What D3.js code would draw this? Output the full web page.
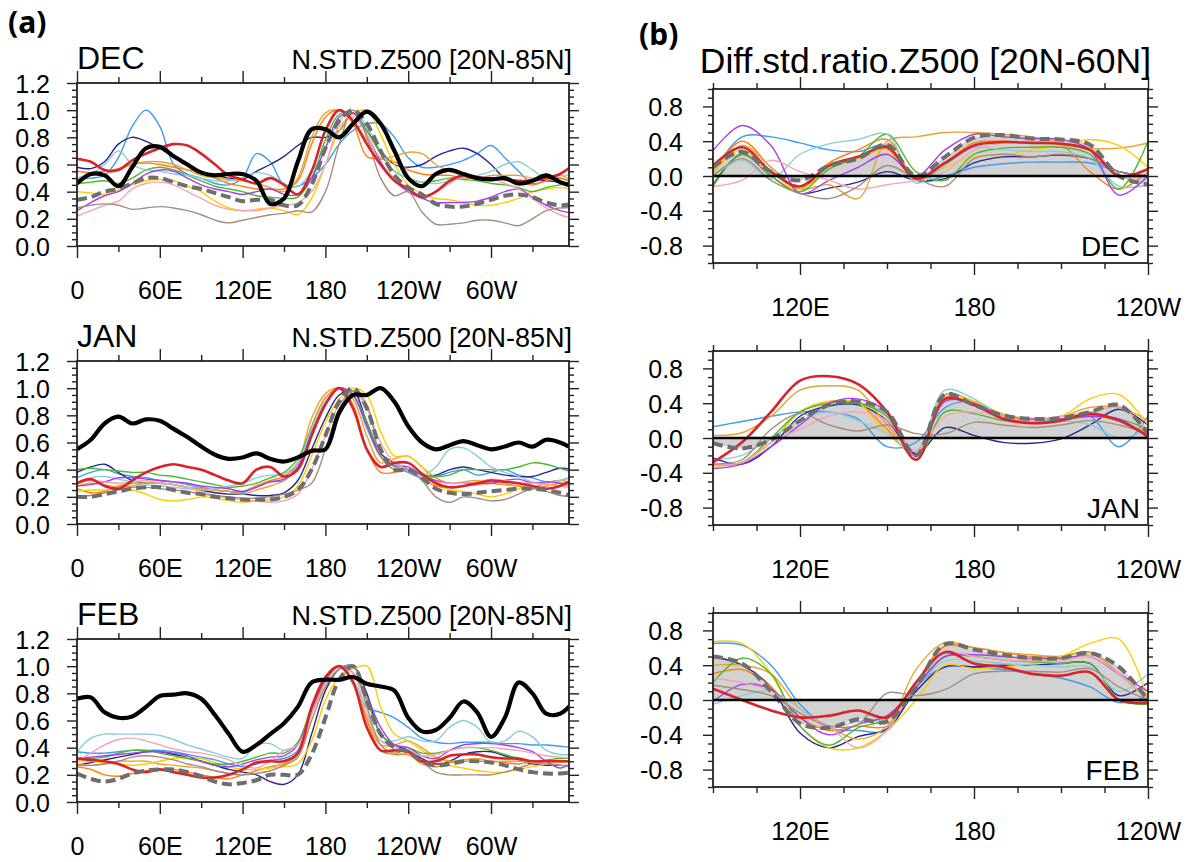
<!DOCTYPE html>
<html>
<head>
<meta charset="utf-8">
<script src="https://cdn.jsdelivr.net/npm/d3@7"></script>
<style>
  body { margin: 0; background: #fff; }
  text { font-family: "Liberation Sans", Arial, Helvetica, sans-serif; fill: #000; }
</style>
</head>
<body>
<svg id="fig" width="1195" height="862"></svg>
<script>
// longitude grids (degrees east)
var lonA = d3.range(0, 361, 10);   // 0 .. 360, left column
var lonB = d3.range(90, 241, 10);  // 90E .. 120W, right column

var seriesNames = ["lightblue", "navy", "orange", "golden", "yellow", "green",
                   "cyan", "purple", "pink", "brown", "red", "dashed", "black"];

// (a) N.STD.Z500 [20N-85N], one row per series (same order as seriesNames)
var aDEC = [
  [0.49,0.50,0.52,0.65,0.88,1.00,0.88,0.60,0.53,0.50, 0.46,0.45,0.50,0.68,0.62,0.45,0.44,0.50,0.60,0.75, 0.85,0.90,0.90,0.80,0.65,0.58,0.58,0.60,0.63,0.68, 0.74,0.65,0.55,0.46,0.48,0.50,0.46],
  [0.58,0.57,0.62,0.75,0.80,0.77,0.72,0.66,0.60,0.55, 0.52,0.50,0.49,0.55,0.60,0.66,0.74,0.80,0.80,0.85, 0.98,0.85,0.70,0.60,0.58,0.60,0.66,0.70,0.72,0.68, 0.60,0.50,0.47,0.49,0.48,0.47,0.46],
  [0.55,0.54,0.55,0.57,0.60,0.61,0.60,0.58,0.56,0.55, 0.50,0.46,0.44,0.42,0.42,0.42,0.48,0.75,0.95,1.00, 0.90,0.66,0.64,0.62,0.56,0.53,0.52,0.52,0.50,0.50, 0.50,0.49,0.47,0.45,0.48,0.50,0.46],
  [0.50,0.52,0.53,0.56,0.60,0.62,0.62,0.60,0.56,0.52, 0.50,0.49,0.48,0.46,0.43,0.40,0.50,0.80,0.98,1.00, 0.92,0.78,0.65,0.66,0.69,0.68,0.60,0.55,0.52,0.50, 0.52,0.52,0.52,0.50,0.51,0.52,0.48],
  [0.40,0.39,0.38,0.41,0.45,0.48,0.49,0.48,0.44,0.40, 0.33,0.28,0.26,0.27,0.28,0.26,0.23,0.35,0.60,0.85, 0.97,1.00,0.82,0.60,0.45,0.38,0.35,0.34,0.32,0.30, 0.30,0.32,0.35,0.40,0.42,0.43,0.42],
  [0.46,0.47,0.48,0.46,0.50,0.56,0.58,0.56,0.52,0.48, 0.44,0.42,0.40,0.37,0.36,0.35,0.36,0.50,0.78,0.97, 0.98,0.85,0.68,0.55,0.50,0.47,0.48,0.50,0.49,0.48, 0.46,0.45,0.43,0.40,0.43,0.45,0.46],
  [0.50,0.53,0.60,0.70,0.60,0.56,0.55,0.53,0.52,0.50, 0.48,0.48,0.50,0.54,0.52,0.46,0.44,0.55,0.72,0.92, 1.00,0.88,0.70,0.55,0.50,0.47,0.46,0.48,0.50,0.52, 0.55,0.60,0.62,0.56,0.50,0.52,0.52],
  [0.26,0.32,0.37,0.40,0.46,0.53,0.56,0.55,0.50,0.45, 0.42,0.40,0.38,0.40,0.42,0.38,0.38,0.50,0.72,0.95, 0.98,0.82,0.62,0.48,0.40,0.35,0.32,0.32,0.32,0.33, 0.36,0.40,0.42,0.36,0.30,0.26,0.24],
  [0.22,0.26,0.30,0.33,0.42,0.46,0.47,0.45,0.40,0.35, 0.30,0.27,0.26,0.26,0.28,0.30,0.32,0.40,0.60,0.88, 0.95,0.82,0.60,0.50,0.42,0.37,0.40,0.46,0.52,0.51, 0.50,0.46,0.42,0.35,0.28,0.23,0.20],
  [0.28,0.30,0.31,0.30,0.27,0.28,0.29,0.28,0.26,0.23, 0.19,0.17,0.19,0.21,0.23,0.24,0.26,0.25,0.40,0.75, 1.00,0.80,0.50,0.37,0.40,0.25,0.16,0.16,0.17,0.19, 0.19,0.17,0.15,0.20,0.26,0.28,0.28],
  [0.64,0.62,0.56,0.56,0.63,0.68,0.72,0.75,0.74,0.68, 0.60,0.52,0.49,0.46,0.50,0.45,0.38,0.55,0.85,1.00, 0.92,0.75,0.60,0.48,0.42,0.36,0.40,0.48,0.52,0.50, 0.50,0.49,0.48,0.48,0.50,0.53,0.60],
  [0.34,0.36,0.40,0.42,0.46,0.50,0.50,0.47,0.44,0.42, 0.39,0.36,0.33,0.34,0.34,0.30,0.30,0.45,0.72,0.92, 1.00,0.90,0.70,0.52,0.43,0.38,0.31,0.29,0.29,0.31, 0.34,0.37,0.38,0.36,0.32,0.30,0.31],
  [0.46,0.53,0.52,0.44,0.58,0.72,0.73,0.66,0.60,0.54, 0.52,0.53,0.53,0.48,0.31,0.35,0.62,0.86,0.86,0.80, 0.90,0.99,0.90,0.70,0.50,0.44,0.53,0.56,0.53,0.50, 0.49,0.50,0.46,0.48,0.52,0.47,0.44]
];

var aJAN = [
  [0.34,0.38,0.40,0.37,0.35,0.34,0.32,0.31,0.29,0.27, 0.25,0.24,0.23,0.28,0.31,0.32,0.42,0.68,0.90,1.00, 0.95,0.72,0.50,0.43,0.38,0.34,0.35,0.38,0.40,0.36, 0.38,0.40,0.36,0.34,0.31,0.32,0.35],
  [0.38,0.42,0.44,0.38,0.32,0.30,0.30,0.29,0.27,0.25, 0.23,0.22,0.22,0.21,0.21,0.23,0.32,0.55,0.78,0.95, 0.98,0.75,0.52,0.45,0.40,0.36,0.36,0.40,0.42,0.40, 0.38,0.36,0.35,0.35,0.38,0.41,0.40],
  [0.26,0.23,0.24,0.28,0.30,0.30,0.30,0.29,0.27,0.26, 0.25,0.24,0.24,0.28,0.32,0.35,0.45,0.72,0.93,1.00, 0.88,0.55,0.38,0.38,0.40,0.33,0.28,0.27,0.28,0.29, 0.30,0.29,0.28,0.26,0.28,0.30,0.30],
  [0.28,0.30,0.29,0.27,0.28,0.30,0.30,0.29,0.27,0.26, 0.25,0.24,0.22,0.25,0.28,0.32,0.45,0.78,0.96,1.00, 0.92,0.65,0.45,0.48,0.50,0.42,0.34,0.30,0.31,0.32, 0.30,0.29,0.28,0.27,0.30,0.32,0.30],
  [0.24,0.25,0.25,0.26,0.25,0.22,0.18,0.17,0.18,0.20, 0.19,0.17,0.16,0.17,0.18,0.20,0.28,0.50,0.75,0.92, 1.00,0.95,0.68,0.50,0.50,0.42,0.30,0.25,0.24,0.22, 0.20,0.22,0.26,0.30,0.29,0.28,0.26],
  [0.40,0.41,0.40,0.39,0.38,0.38,0.36,0.35,0.33,0.31, 0.29,0.27,0.28,0.30,0.34,0.38,0.48,0.70,0.88,1.00, 0.95,0.75,0.50,0.42,0.40,0.36,0.35,0.36,0.40,0.40, 0.40,0.40,0.42,0.45,0.44,0.41,0.38],
  [0.30,0.34,0.35,0.33,0.31,0.29,0.28,0.27,0.26,0.25, 0.26,0.28,0.30,0.34,0.36,0.37,0.45,0.70,0.90,1.00, 0.95,0.70,0.50,0.42,0.40,0.36,0.42,0.55,0.56,0.50, 0.42,0.38,0.35,0.31,0.30,0.32,0.35],
  [0.28,0.29,0.31,0.34,0.34,0.33,0.32,0.31,0.30,0.28, 0.27,0.26,0.24,0.27,0.31,0.33,0.42,0.66,0.88,1.00, 0.95,0.72,0.50,0.43,0.42,0.36,0.32,0.30,0.30,0.30, 0.30,0.32,0.33,0.30,0.31,0.30,0.27],
  [0.30,0.32,0.31,0.30,0.31,0.32,0.30,0.29,0.27,0.24, 0.21,0.19,0.18,0.17,0.16,0.17,0.22,0.40,0.65,0.88, 0.98,0.85,0.60,0.45,0.40,0.34,0.31,0.30,0.30,0.31, 0.33,0.32,0.30,0.30,0.29,0.28,0.28],
  [0.20,0.21,0.23,0.25,0.27,0.27,0.26,0.25,0.24,0.22, 0.21,0.20,0.19,0.19,0.20,0.22,0.25,0.30,0.55,0.85, 0.98,0.88,0.50,0.40,0.40,0.32,0.20,0.16,0.20,0.19, 0.17,0.18,0.22,0.26,0.24,0.21,0.20],
  [0.30,0.33,0.28,0.26,0.32,0.38,0.42,0.44,0.42,0.40, 0.36,0.32,0.30,0.40,0.42,0.35,0.40,0.65,0.88,1.00, 0.85,0.55,0.42,0.45,0.45,0.37,0.30,0.27,0.28,0.30, 0.32,0.31,0.30,0.28,0.26,0.28,0.33],
  [0.20,0.20,0.22,0.24,0.26,0.27,0.27,0.25,0.23,0.22, 0.20,0.19,0.18,0.18,0.18,0.20,0.25,0.40,0.65,0.90, 1.00,0.85,0.55,0.40,0.40,0.34,0.26,0.23,0.22,0.23, 0.24,0.25,0.26,0.26,0.25,0.23,0.20],
  [0.55,0.62,0.74,0.79,0.74,0.77,0.76,0.70,0.64,0.57, 0.51,0.48,0.49,0.52,0.48,0.46,0.49,0.54,0.55,0.82, 0.95,0.95,1.00,0.90,0.72,0.60,0.55,0.58,0.61,0.58, 0.55,0.57,0.60,0.57,0.62,0.60,0.55]
];

var aFEB = [
  [0.37,0.36,0.36,0.37,0.38,0.38,0.38,0.37,0.35,0.33, 0.31,0.28,0.26,0.28,0.31,0.32,0.38,0.68,0.90,1.00, 0.90,0.70,0.66,0.62,0.55,0.47,0.44,0.43,0.44,0.44, 0.44,0.43,0.43,0.42,0.42,0.41,0.40],
  [0.27,0.29,0.31,0.33,0.35,0.37,0.37,0.35,0.33,0.30, 0.27,0.24,0.22,0.20,0.15,0.13,0.20,0.50,0.82,0.98, 1.00,0.80,0.50,0.42,0.38,0.32,0.28,0.30,0.35,0.37, 0.37,0.34,0.31,0.28,0.27,0.27,0.26],
  [0.26,0.24,0.20,0.19,0.21,0.23,0.24,0.24,0.22,0.20, 0.18,0.17,0.20,0.23,0.26,0.28,0.36,0.68,0.92,1.00, 0.88,0.60,0.38,0.35,0.35,0.28,0.26,0.29,0.30,0.30, 0.30,0.29,0.28,0.30,0.30,0.30,0.30],
  [0.28,0.27,0.28,0.30,0.30,0.30,0.28,0.27,0.26,0.25, 0.23,0.21,0.20,0.23,0.26,0.28,0.35,0.65,0.88,1.00, 0.90,0.62,0.42,0.42,0.45,0.40,0.33,0.30,0.31,0.32, 0.30,0.30,0.30,0.30,0.30,0.30,0.30],
  [0.30,0.30,0.29,0.28,0.27,0.28,0.30,0.32,0.33,0.32, 0.29,0.26,0.24,0.24,0.25,0.26,0.28,0.45,0.75,0.92, 0.98,1.00,0.70,0.50,0.45,0.38,0.32,0.27,0.25,0.23, 0.22,0.22,0.24,0.26,0.28,0.29,0.30],
  [0.32,0.32,0.33,0.36,0.38,0.38,0.36,0.34,0.32,0.30, 0.28,0.28,0.30,0.33,0.36,0.36,0.44,0.70,0.90,1.00, 0.95,0.75,0.50,0.42,0.40,0.36,0.36,0.38,0.40,0.40, 0.38,0.35,0.32,0.30,0.31,0.32,0.32],
  [0.37,0.47,0.50,0.50,0.50,0.50,0.49,0.46,0.42,0.39, 0.36,0.33,0.32,0.42,0.43,0.38,0.42,0.70,0.90,1.00, 0.90,0.65,0.45,0.45,0.48,0.45,0.45,0.55,0.60,0.55, 0.44,0.45,0.52,0.48,0.38,0.35,0.35],
  [0.32,0.33,0.34,0.35,0.36,0.37,0.37,0.36,0.34,0.30, 0.27,0.26,0.28,0.31,0.33,0.34,0.42,0.68,0.90,1.00, 0.95,0.78,0.55,0.42,0.40,0.34,0.32,0.38,0.42,0.43, 0.43,0.42,0.40,0.37,0.30,0.25,0.30],
  [0.30,0.36,0.42,0.46,0.47,0.45,0.42,0.39,0.37,0.36, 0.34,0.31,0.27,0.25,0.30,0.38,0.42,0.65,0.85,0.98, 0.95,0.65,0.45,0.40,0.38,0.34,0.35,0.38,0.40,0.40, 0.40,0.39,0.38,0.36,0.34,0.33,0.32],
  [0.27,0.27,0.28,0.30,0.33,0.34,0.33,0.31,0.28,0.26, 0.23,0.21,0.20,0.21,0.23,0.27,0.33,0.60,0.85,0.98, 1.00,0.70,0.42,0.36,0.38,0.30,0.22,0.20,0.20,0.20, 0.20,0.22,0.25,0.28,0.28,0.27,0.27],
  [0.32,0.31,0.30,0.28,0.24,0.22,0.24,0.22,0.20,0.18, 0.18,0.20,0.24,0.29,0.30,0.30,0.36,0.70,0.92,1.00, 0.88,0.55,0.38,0.38,0.37,0.30,0.30,0.34,0.35,0.35, 0.33,0.32,0.32,0.30,0.30,0.30,0.30],
  [0.21,0.17,0.15,0.17,0.21,0.23,0.24,0.24,0.22,0.19, 0.15,0.13,0.14,0.16,0.20,0.20,0.20,0.35,0.62,0.90, 1.00,0.75,0.50,0.40,0.37,0.30,0.27,0.28,0.30,0.30, 0.29,0.27,0.24,0.22,0.21,0.21,0.22],
  [0.76,0.77,0.66,0.62,0.63,0.70,0.78,0.79,0.80,0.76, 0.64,0.50,0.37,0.42,0.50,0.58,0.70,0.88,0.90,0.90, 0.92,0.87,0.85,0.82,0.62,0.52,0.53,0.62,0.74,0.66, 0.48,0.62,0.88,0.80,0.65,0.65,0.74]
];

// (b) Diff.std.ratio.Z500 [20N-60N], no black line in this column
var bDEC = [
  [0.05,0.45,0.45,0.38,0.30,0.28,0.35,-0.05,0.00,0.10,0.14,0.16,0.16,0.15,0.05,0.00],
  [-0.10,0.25,0.00,-0.20,-0.14,-0.07,0.05,-0.05,-0.03,0.15,0.22,0.22,0.24,0.20,0.05,0.00],
  [0.05,0.40,0.10,-0.15,0.15,0.30,0.42,-0.02,0.15,0.38,0.40,0.38,0.36,0.05,-0.15,0.05],
  [0.03,0.35,0.10,-0.15,-0.10,-0.26,0.40,0.45,0.50,0.50,0.48,0.45,0.38,0.32,0.32,0.38],
  [0.05,0.30,0.00,-0.15,0.08,0.20,0.30,-0.05,0.10,0.22,0.24,0.30,0.35,0.42,0.35,0.10],
  [-0.12,0.25,0.00,-0.18,0.08,0.22,0.48,0.05,-0.05,0.25,0.32,0.33,0.33,0.25,-0.15,0.40],
  [0.00,0.18,-0.03,0.25,0.37,0.42,0.48,-0.08,0.12,0.33,0.30,0.28,0.28,0.20,-0.12,-0.10],
  [0.29,0.58,0.35,-0.20,-0.05,0.10,0.25,0.00,0.30,0.48,0.45,0.43,0.42,0.30,-0.22,0.00],
  [-0.12,-0.05,0.18,0.05,-0.05,-0.15,-0.10,-0.05,0.05,0.30,0.38,0.40,0.38,0.30,0.00,0.00],
  [0.00,0.20,-0.05,-0.20,-0.26,-0.12,0.12,-0.03,-0.12,0.20,0.25,0.22,0.25,0.20,0.05,0.00],
  [0.12,0.33,0.05,-0.12,0.12,0.22,0.33,-0.03,0.15,0.35,0.39,0.38,0.37,0.30,0.00,0.08],
  [0.10,0.28,0.05,-0.05,0.12,0.20,0.36,0.00,0.22,0.44,0.47,0.43,0.42,0.36,0.00,-0.10]
];

var bJAN = [
  [0.13,0.19,0.25,0.30,0.30,0.22,-0.10,-0.05,0.35,0.42,0.26,0.22,0.22,0.25,-0.10,0.25],
  [-0.23,-0.30,-0.10,0.25,0.37,0.38,0.20,-0.18,0.12,0.03,-0.05,-0.06,-0.01,0.15,0.33,0.15],
  [-0.32,-0.28,-0.05,0.30,0.42,0.40,0.10,-0.20,0.45,0.40,0.22,0.20,0.22,0.25,0.20,0.05],
  [0.03,0.06,0.25,0.55,0.60,0.55,0.15,-0.15,0.50,0.42,0.26,0.22,0.25,0.35,0.35,0.20],
  [-0.32,-0.28,-0.05,0.30,0.42,0.40,0.05,-0.15,0.45,0.42,0.28,0.22,0.25,0.45,0.50,0.15],
  [-0.30,-0.28,0.00,0.30,0.40,0.40,0.25,-0.25,0.30,0.28,0.20,0.18,0.20,0.25,0.22,0.10],
  [-0.25,-0.20,0.00,0.20,0.30,0.20,0.05,-0.15,0.55,0.45,0.25,0.20,0.20,0.15,0.00,0.10],
  [-0.35,-0.30,-0.10,0.15,0.40,0.45,0.30,-0.20,0.42,0.40,0.25,0.22,0.22,0.25,0.22,0.00],
  [-0.30,-0.28,-0.05,0.10,0.25,0.30,0.20,-0.15,0.25,0.30,0.25,0.20,0.25,0.30,0.35,0.10],
  [-0.30,-0.25,0.10,0.28,0.15,0.08,0.15,0.05,0.05,0.18,0.15,0.12,0.15,0.20,0.15,0.05],
  [-0.28,-0.05,0.30,0.66,0.71,0.62,0.30,-0.25,0.45,0.38,0.22,0.17,0.20,0.28,0.20,0.02],
  [-0.06,-0.12,-0.02,0.20,0.38,0.42,0.30,-0.20,0.50,0.38,0.26,0.22,0.23,0.30,0.38,0.05]
];

var bFEB = [
  [0.65,0.63,0.40,-0.05,-0.32,-0.35,-0.35,0.15,0.38,0.38,0.35,0.30,0.25,0.15,-0.03,0.05],
  [0.50,0.40,0.15,-0.38,-0.55,-0.42,-0.33,0.10,0.38,0.38,0.40,0.40,0.42,0.42,0.05,0.20],
  [0.30,0.35,0.15,-0.20,-0.35,-0.30,-0.30,0.20,0.62,0.60,0.55,0.50,0.50,0.55,0.30,0.00],
  [0.40,0.40,0.30,-0.10,-0.30,-0.45,-0.30,0.35,0.66,0.60,0.55,0.52,0.50,0.55,0.30,0.00],
  [0.67,0.65,0.30,-0.30,-0.55,-0.55,-0.35,0.00,0.40,0.36,0.38,0.42,0.50,0.65,0.70,0.00],
  [0.20,0.48,0.30,-0.30,-0.52,-0.32,-0.22,0.15,0.50,0.50,0.46,0.44,0.42,0.42,0.00,-0.05],
  [-0.05,0.05,0.10,-0.10,-0.30,-0.25,-0.20,0.15,0.45,0.45,0.42,0.40,0.38,0.38,0.10,0.30],
  [-0.02,0.18,0.12,-0.20,-0.40,-0.28,-0.18,0.15,0.50,0.52,0.50,0.48,0.48,0.50,0.30,0.10],
  [0.25,0.20,0.10,-0.15,-0.30,-0.55,-0.35,0.20,0.55,0.50,0.46,0.45,0.45,0.50,0.30,0.00],
  [0.17,0.12,0.05,-0.15,-0.30,-0.28,0.08,0.05,0.12,0.30,0.33,0.33,0.32,0.36,0.15,0.00],
  [0.13,0.00,-0.12,-0.20,-0.18,-0.12,-0.20,0.20,0.55,0.42,0.38,0.30,0.28,0.32,0.00,-0.03],
  [0.50,0.42,0.10,-0.27,-0.32,-0.22,-0.25,0.15,0.64,0.58,0.52,0.48,0.48,0.54,0.38,0.00]
];

// tick marks and labels
var xTicksA = [0, 60, 120, 180, 240, 300];
var xLabelsA = ["0", "60E", "120E", "180", "120W", "60W"];
var xMinorA = [30, 90, 150, 210, 270, 330];
var yTicksA = [0, 0.2, 0.4, 0.6, 0.8, 1.0, 1.2];
var xTicksB = [120, 180, 240];
var xLabelsB = ["120E", "180", "120W"];
var xMinorB = [90, 105, 135, 150, 165, 195, 210, 225];
var yTicksB = [-0.8, -0.4, 0, 0.4, 0.8];

var style = {
  lightblue: { color: "#3d9cf0", w: 1.4 },
  navy:      { color: "#27278e", w: 1.4 },
  orange:    { color: "#ff7f10", w: 1.4 },
  golden:    { color: "#e6a533", w: 1.4 },
  yellow:    { color: "#ffcc00", w: 1.4 },
  green:     { color: "#4cb82a", w: 1.4 },
  cyan:      { color: "#86cfd9", w: 1.4 },
  purple:    { color: "#a43ff0", w: 1.4 },
  pink:      { color: "#f7a3b5", w: 1.4 },
  brown:     { color: "#a58d7e", w: 1.4 },
  red:       { color: "#d8232a", w: 2.6 },
  dashed:    { color: "#6e6e6e", w: 4.0, dash: "10,5" },
  black:     { color: "#000000", w: 4.2 }
};

var svg = d3.select("#fig");
var clipCount = 0;
var curve = d3.curveCatmullRom.alpha(0.5);

function tidyAxis(sel) {
  sel.attr("font-size", null).attr("font-family", null);
  sel.select(".domain").remove();
  sel.selectAll(".tick line").attr("stroke", "#222").attr("stroke-width", 1.4);
}

function drawPanel(p) {
  var x = d3.scaleLinear().domain(p.xDom).range([p.x0, p.x1]);
  var y = d3.scaleLinear().domain(p.yDom).range([p.y1, p.y0]);
  var g = svg.append("g");

  var id = "clip" + (clipCount++);
  svg.append("clipPath").attr("id", id).append("rect")
      .attr("x", p.x0).attr("y", p.y0)
      .attr("width", p.x1 - p.x0).attr("height", p.y1 - p.y0);
  var plot = g.append("g").attr("clip-path", "url(#" + id + ")");

  var names = seriesNames.slice(0, p.rows.length);
  var byName = {};
  names.forEach(function(n, i) {
    byName[n] = p.lon.map(function(l, j) { return [l, p.rows[i][j]]; });
  });

  // shaded area under the ensemble mean (right column only)
  if (p.fill) {
    plot.append("path")
        .datum(byName.dashed)
        .attr("fill", "#d2d2d2")
        .attr("d", d3.area()
            .x(function(d) { return x(d[0]); })
            .y0(y(0))
            .y1(function(d) { return y(d[1]); })
            .curve(curve));
  }

  var line = d3.line()
      .x(function(d) { return x(d[0]); })
      .y(function(d) { return y(d[1]); })
      .curve(curve);

  var order = names.filter(function(n) { return n !== "red" && n !== "dashed" && n !== "black"; })
      .concat(["red", "dashed"]);
  if (byName.black) order.push("black");

  order.forEach(function(n) {
    var s = style[n];
    plot.append("path")
        .datum(byName[n])
        .attr("fill", "none")
        .attr("stroke", s.color)
        .attr("stroke-width", s.w)
        .attr("stroke-dasharray", s.dash || null)
        .attr("stroke-linejoin", "round")
        .attr("d", line);
  });

  if (p.fill) {
    g.append("line")
        .attr("x1", p.x0).attr("x2", p.x1)
        .attr("y1", y(0)).attr("y2", y(0))
        .attr("stroke", "#000").attr("stroke-width", 2.6);
  }

  // frame
  g.append("rect")
      .attr("x", p.x0).attr("y", p.y0)
      .attr("width", p.x1 - p.x0).attr("height", p.y1 - p.y0)
      .attr("fill", "none").attr("stroke", "#222").attr("stroke-width", 1.8);

  // x axes, bottom with labels, top without
  g.append("g").attr("transform", "translate(0," + p.y1 + ")")
      .call(d3.axisBottom(x).tickValues(p.xTicks).tickSize(12)
          .tickFormat(function(d, i) { return p.xLabels[i]; }))
      .call(tidyAxis)
      .call(function(s) {
        s.selectAll("text").attr("y", 53).attr("dy", null).attr("font-size", 25);
      });
  g.append("g").attr("transform", "translate(0," + p.y1 + ")")
      .call(d3.axisBottom(x).tickValues(p.xMinor).tickSize(6).tickFormat(""))
      .call(tidyAxis);
  g.append("g").attr("transform", "translate(0," + p.y0 + ")")
      .call(d3.axisTop(x).tickValues(p.xTicks).tickSize(12).tickFormat(""))
      .call(tidyAxis);
  g.append("g").attr("transform", "translate(0," + p.y0 + ")")
      .call(d3.axisTop(x).tickValues(p.xMinor).tickSize(6).tickFormat(""))
      .call(tidyAxis);

  // y axes, left with labels, right without
  g.append("g").attr("transform", "translate(" + p.x0 + ",0)")
      .call(d3.axisLeft(y).tickValues(p.yTicks).tickSize(10)
          .tickFormat(function(d) { return d.toFixed(1); }))
      .call(tidyAxis)
      .call(function(s) {
        s.selectAll("text").attr("x", -p.labelGap).attr("dy", "0.36em").attr("font-size", 25);
      });
  g.append("g").attr("transform", "translate(" + p.x0 + ",0)")
      .call(d3.axisLeft(y).tickValues(p.yMinor).tickSize(5).tickFormat(""))
      .call(tidyAxis);
  g.append("g").attr("transform", "translate(" + p.x1 + ",0)")
      .call(d3.axisRight(y).tickValues(p.yTicks).tickSize(10).tickFormat(""))
      .call(tidyAxis);
  g.append("g").attr("transform", "translate(" + p.x1 + ",0)")
      .call(d3.axisRight(y).tickValues(p.yMinor).tickSize(5).tickFormat(""))
      .call(tidyAxis);

  return g;
}

var yMinorA = d3.range(0, 25).filter(function(i) { return i % 4 !== 0; })
    .map(function(i) { return i * 0.05; });
var yMinorB = d3.range(-10, 11).filter(function(i) { return i % 4 !== 0; })
    .map(function(i) { return i * 0.1; });

// left column
var colA = [
  { name: "DEC", rows: aDEC, top: 83 },
  { name: "JAN", rows: aJAN, top: 361 },
  { name: "FEB", rows: aFEB, top: 639 }
];
colA.forEach(function(c) {
  var g = drawPanel({
    x0: 77, x1: 569, y0: c.top, y1: c.top + 163,
    xDom: [0, 356.5], yDom: [0, 1.2], lon: lonA, rows: c.rows,
    xTicks: xTicksA, xLabels: xLabelsA, xMinor: xMinorA,
    yTicks: yTicksA, yMinor: yMinorA, labelGap: 27, fill: false
  });
  g.append("text").attr("x", 77).attr("y", c.top - 14)
      .attr("font-size", 32).text(c.name);
  g.append("text").attr("x", 572).attr("y", c.top - 14)
      .attr("text-anchor", "end").attr("font-size", 27)
      .text("N.STD.Z500 [20N-85N]");
});

// right column
var colB = [
  { name: "DEC", rows: bDEC, top: 89 },
  { name: "JAN", rows: bJAN, top: 351 },
  { name: "FEB", rows: bFEB, top: 613 }
];
colB.forEach(function(c) {
  var g = drawPanel({
    x0: 713, x1: 1148, y0: c.top, y1: c.top + 174,
    xDom: [90, 240], yDom: [-1, 1], lon: lonB, rows: c.rows,
    xTicks: xTicksB, xLabels: xLabelsB, xMinor: xMinorB,
    yTicks: yTicksB, yMinor: yMinorB, labelGap: 30, fill: true
  });
  g.append("text").attr("x", 1140).attr("y", c.top + 174 - 7)
      .attr("text-anchor", "end").attr("font-size", 28).text(c.name);
});

svg.append("text").attr("x", 1151).attr("y", 73)
    .attr("text-anchor", "end").attr("font-size", 35.5)
    .text("Diff.std.ratio.Z500 [20N-60N]");

svg.append("text").attr("x", 8).attr("y", 33)
    .style("font-family", "'Noto Sans', 'Open Sans', sans-serif")
    .attr("font-weight", "bold").attr("font-size", 30).text("(a)");
svg.append("text").attr("x", 639).attr("y", 45)
    .style("font-family", "'Noto Sans', 'Open Sans', sans-serif")
    .attr("font-weight", "bold").attr("font-size", 30).text("(b)");
</script>
</body>
</html>
